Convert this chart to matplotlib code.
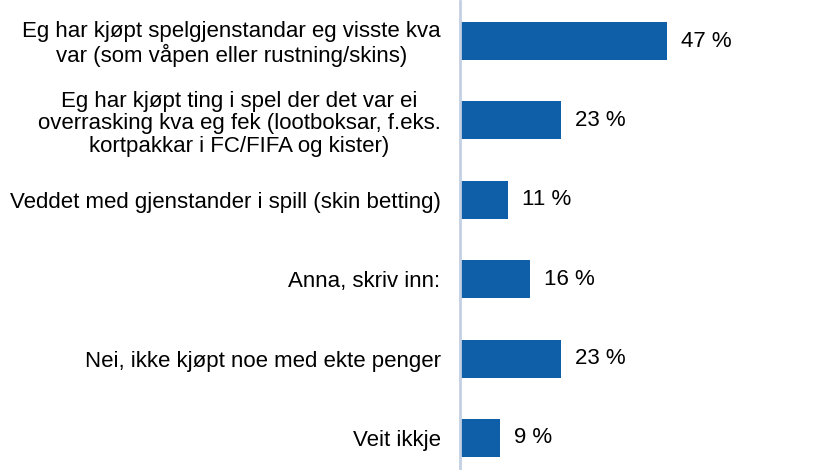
import matplotlib
matplotlib.use("Agg")
import matplotlib.pyplot as plt

plt.rcParams['font.family'] = ['Liberation Sans', 'DejaVu Sans']

categories = [
    "Eg har kjøpt spelgjenstandar eg visste kva\nvar (som våpen eller rustning/skins)",
    "Eg har kjøpt ting i spel der det var ei\noverrasking kva eg fek (lootboksar, f.eks.\nkortpakkar i FC/FIFA og kister)",
    "Veddet med gjenstander i spill (skin betting)",
    "Anna, skriv inn:",
    "Nei, ikke kjøpt noe med ekte penger",
    "Veit ikkje",
]
values = [47, 23, 11, 16, 23, 9]
value_labels = ["47 %", "23 %", "11 %", "16 %", "23 %", "9 %"]

W, H = 834, 470
fig = plt.figure(figsize=(W / 100, H / 100), dpi=100)

# axes placed in pixel terms: left edge at the axis line, rows spaced ~79.4 px
left_px, right_px = 460, 812
top_px, bottom_px = 1.3, 477.7
ax = fig.add_axes([left_px / W, (H - bottom_px) / H,
                   (right_px - left_px) / W, (bottom_px - top_px) / H])

y = list(range(len(categories)))
ax.barh(y, values, height=0.48, color="#0F5EA8", zorder=2)

ax.set_xlim(0, 80)
ax.set_ylim(len(categories) - 0.5, -0.5)

for yi, v, lab in zip(y, values, value_labels):
    ax.text(v + 3.2, yi, lab, va="center", ha="left", fontsize=16, color="#000000")

ax.set_yticks(y)
ax.set_yticklabels(categories, fontsize=16, multialignment="center", linespacing=1.1)
ax.tick_params(axis="y", length=0, pad=14)
ax.set_xticks([])

for side in ["top", "right", "bottom"]:
    ax.spines[side].set_visible(False)
ax.spines["left"].set_color("#C3D0E3")
ax.spines["left"].set_linewidth(2)
ax.patch.set_alpha(0)

fig.savefig("out.png", dpi=100)
